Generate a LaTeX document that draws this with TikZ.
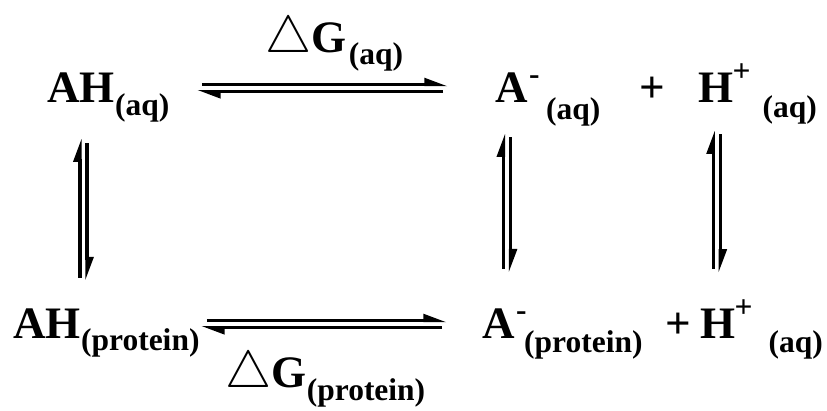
\documentclass[tikz,border=0pt]{standalone}
\usepackage{fix-cm}
\usepackage{fontspec}
\setmainfont{Liberation Serif}
\usepackage{tikz}
\usetikzlibrary{arrows.meta, positioning}

\tikzset{
  chem/.style={font=\fontsize{45}{50}\selectfont\bfseries, inner sep=0pt, anchor=base west},
  subtext/.style={font=\fontsize{31.5}{34}\selectfont\bfseries, inner sep=0pt, anchor=base west},
  harp/.style={line width=3.2pt, -{Triangle[left, length=19pt, width=13pt]}},
}
\newcommand{\tri}{{\fontsize{52}{52}\selectfont$\triangle$}}

\begin{document}
\begin{tikzpicture}[x=1pt, y=-1pt]
\useasboundingbox (0,0) rectangle (827,411);

% top row
\node[chem] (ahaq) at (47,103) {AH};
\node[subtext] (ahaqsub) at ([yshift=-13pt]ahaq.base east) {(aq)};
\node[chem] (aaq) at (495,103) {A};
\node[subtext] (aaqsup) at ([xshift=1pt,yshift=18pt]aaq.base east) {-};
\node[subtext] (aaqsub) at ([xshift=18pt,yshift=-17pt]aaq.base east) {(aq)};
\node[chem] (plustop) at (639,103) {+};
\node[chem] (haq) at (698,103) {H};
\node[subtext] (haqsup) at ([xshift=-1pt,yshift=21pt]haq.base east) {+};
\node[subtext] (haqsub) at ([xshift=29pt,yshift=-15pt]haq.base east) {(aq)};
\node[chem] (dgaq) at (265,53) {\tri G};
\node[subtext] (dgaqsub) at ([xshift=2pt,yshift=-12pt]dgaq.base east) {(aq)};

% bottom row
\node[chem] (ahpr) at (13,339) {AH};
\node[subtext] (ahprsub) at ([yshift=-12pt]ahpr.base east) {(protein)};
\node[chem] (apr) at (482,339) {A};
\node[subtext] (aprsup) at ([xshift=1pt,yshift=18pt]apr.base east) {-};
\node[subtext] (aprsub) at ([xshift=9pt,yshift=-14pt]apr.base east) {(protein)};
\node[chem] (plusbot) at (665,339) {+};
\node[chem] (hpr) at (700,339) {H};
\node[subtext] (hprsup) at ([xshift=-1pt,yshift=21pt]hpr.base east) {+};
\node[subtext] (hprsub) at ([xshift=33pt,yshift=-14pt]hpr.base east) {(aq)};
\node[chem] (dgpr) at (225,388) {\tri G};
\node[subtext] (dgprsub) at ([yshift=-12pt]dgpr.base east) {(protein)};

% equilibrium arrows
\draw[harp, shorten <=87pt, shorten >=47pt] ([yshift=3.5pt]ahaq.east) -- ([yshift=3.5pt]aaq.west);
\draw[harp, shorten <=52pt, shorten >=82pt] ([yshift=-3.5pt]aaq.west) -- ([yshift=-3.5pt]ahaq.east);
\draw[harp, shorten <=126pt, shorten >=35pt] ([yshift=3.5pt]ahpr.east) -- ([yshift=3.5pt]apr.west);
\draw[harp, shorten <=40pt, shorten >=120pt] ([yshift=-3.5pt]apr.west) -- ([yshift=-3.5pt]ahpr.east);

\draw[harp, shorten <=31.5pt, shorten >=35pt] ([xshift=-1pt]ahaq.south |- ahpr.north) -- ([xshift=-1pt]ahaq.south);
\draw[harp, shorten <=40pt, shorten >=28.5pt] ([xshift=6pt]ahaq.south) -- ([xshift=6pt]ahaq.south |- ahpr.north);
\draw[harp, shorten <=40.5pt, shorten >=30pt] ([xshift=-8pt]aaq.south |- apr.north) -- ([xshift=-8pt]aaq.south);
\draw[harp, shorten <=34pt, shorten >=36.5pt] ([xshift=-1pt]aaq.south) -- ([xshift=-1pt]aaq.south |- apr.north);
\draw[harp, shorten <=40.5pt, shorten >=27pt] ([xshift=-2.5pt]haq.south |- hpr.north) -- ([xshift=-2.5pt]haq.south);
\draw[harp, shorten <=31pt, shorten >=36.5pt] ([xshift=4.5pt]haq.south) -- ([xshift=4.5pt]haq.south |- hpr.north);
\end{tikzpicture}
\end{document}
